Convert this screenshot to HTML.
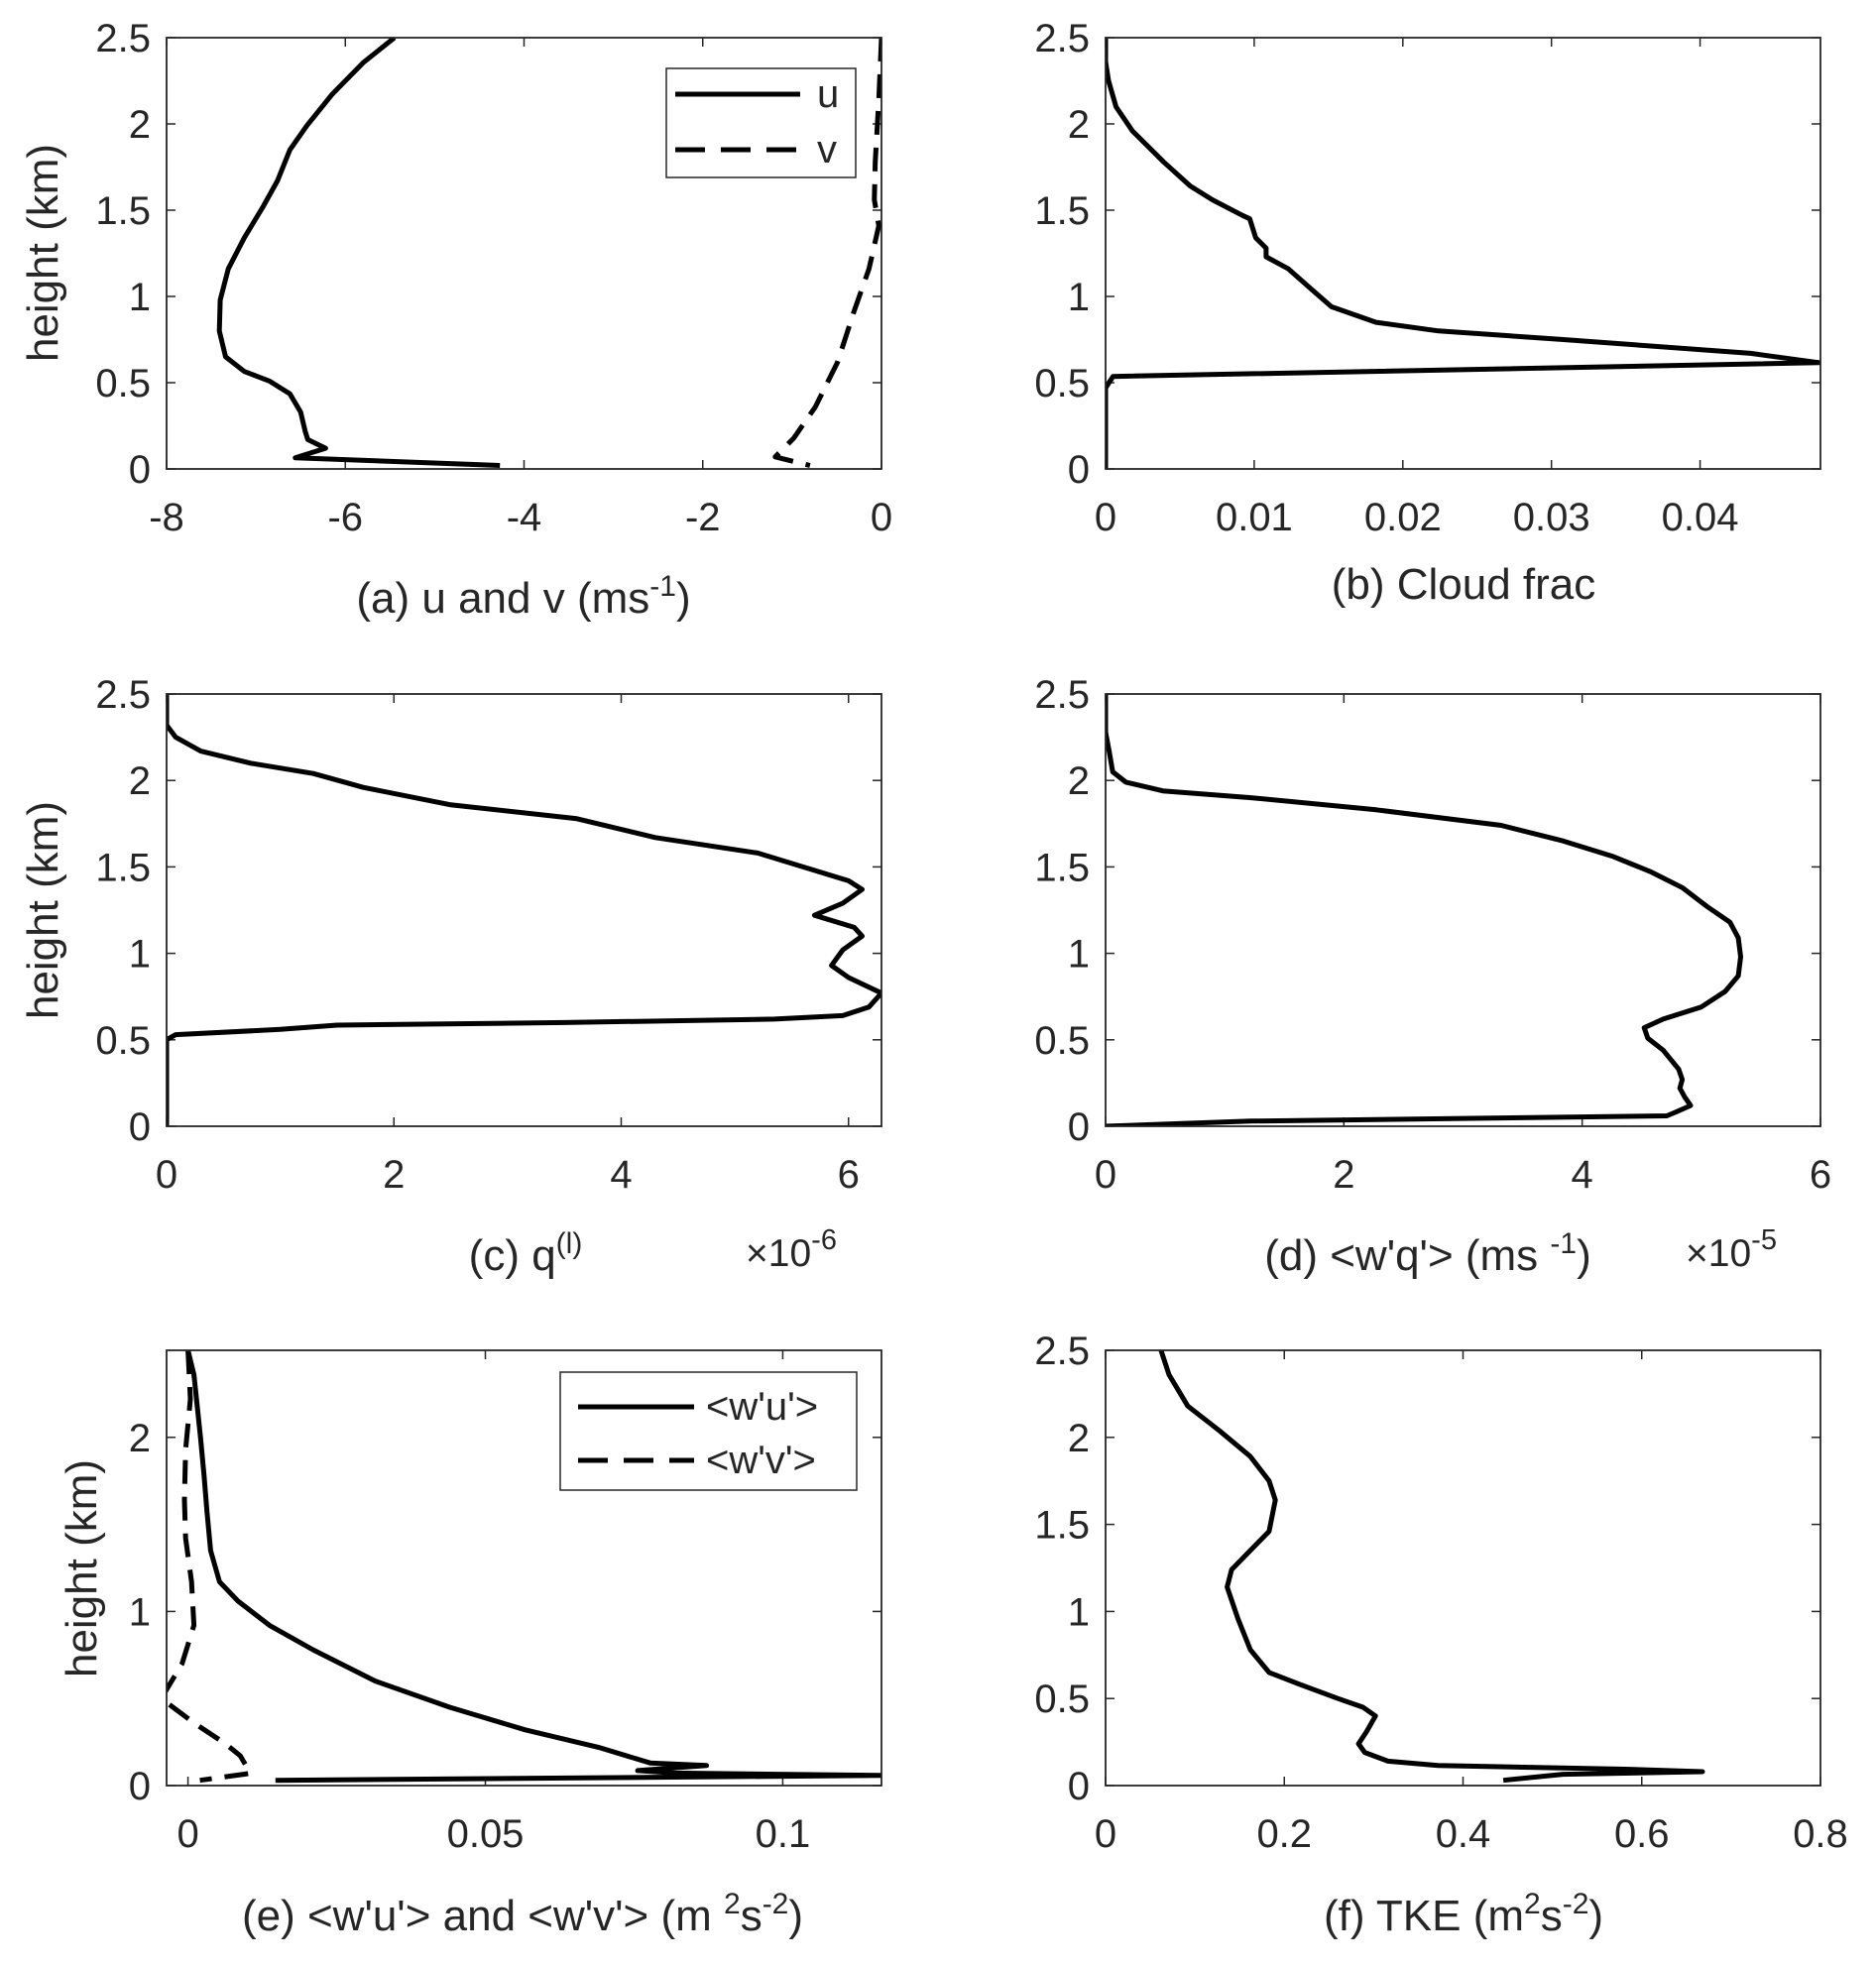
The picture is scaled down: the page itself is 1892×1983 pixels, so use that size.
<!DOCTYPE html>
<html><head><meta charset="utf-8"><style>
body{margin:0;background:#fff}
svg{display:block;font-family:"Liberation Sans",sans-serif}
</style></head><body>
<svg id="fig" width="1892" height="1983" viewBox="0 0 1892 1983" xmlns="http://www.w3.org/2000/svg"></svg>
<script>
// ---- data (x value, height km) ----
const aU_x=[-5.45,-5.80,-6.15,-6.43,-6.62,-6.76,-6.92,-7.13,-7.31,-7.40,-7.41,-7.34,-7.13,-6.85,-6.62,-6.50,-6.45,-6.42,-6.22,-6.56,-4.27];
const aU_h=[2.5,2.355,2.17,1.99,1.85,1.67,1.52,1.34,1.16,0.98,0.80,0.65,0.565,0.51,0.435,0.33,0.22,0.17,0.12,0.065,0.02];
const aV_x=[0,-0.03,-0.07,-0.08,-0.03,-0.14,-0.31,-0.49,-0.74,-0.98,-1.19,-0.8];
const aV_h=[2.5,2.14,1.78,1.56,1.41,1.16,0.91,0.62,0.36,0.18,0.07,0.02];
const bC_x=[0,0,0.0002,0.0007,0.0018,0.0039,0.0057,0.0072,0.0092,0.0097,0.0101,0.0108,0.0108,0.0123,0.014,0.0152,0.0182,0.0224,0.0308,0.0434,0.048,0.0005,0,0];
const bC_h=[2.5,2.36,2.25,2.1,1.96,1.78,1.64,1.56,1.47,1.45,1.34,1.28,1.23,1.16,1.03,0.94,0.85,0.80,0.75,0.67,0.616,0.536,0.47,0];
const cQ_x=[0,0,0.08,0.3,0.74,1.29,1.73,2.49,3.6,4.3,5.2,5.6,6.0,6.12,5.95,5.7,6.05,6.12,5.95,5.85,6.0,6.29,6.18,5.95,5.35,3.5,1.5,1.0,0.08,0,0];
const cQ_h=[2.5,2.32,2.25,2.17,2.1,2.04,1.96,1.86,1.78,1.67,1.58,1.5,1.42,1.37,1.29,1.22,1.15,1.1,1.02,0.93,0.86,0.77,0.69,0.64,0.62,0.6,0.585,0.56,0.53,0.5,0];
const dW_x=[0,0,0.03,0.06,0.17,0.48,1.22,2.27,3.32,3.84,4.26,4.58,4.84,5.05,5.24,5.31,5.33,5.31,5.2,5.0,4.68,4.52,4.55,4.68,4.81,4.84,4.82,4.86,4.91,4.78,4.71,1.22,0];
const dW_h=[2.5,2.28,2.17,2.05,1.99,1.94,1.9,1.83,1.74,1.65,1.56,1.47,1.38,1.27,1.18,1.09,0.98,0.87,0.78,0.69,0.62,0.57,0.51,0.44,0.33,0.27,0.22,0.17,0.12,0.08,0.06,0.03,0];
const eU_x=[0,0.001,0.0021,0.0027,0.0032,0.0038,0.0053,0.0084,0.0137,0.021,0.0315,0.044,0.0567,0.069,0.0777,0.0872,0.0756,0.082,0.1166,0.0147];
const eU_h=[2.5,2.36,2.0,1.78,1.57,1.35,1.17,1.06,0.92,0.78,0.6,0.45,0.32,0.22,0.13,0.115,0.086,0.072,0.058,0.03];
const eV_x=[0,0.0004,-0.0004,-0.0006,-0.0004,0.0006,0.001,-0.001,-0.0045,0.001,0.0063,0.0088,0.0105,0.002];
const eV_h=[2.5,2.22,1.93,1.64,1.42,1.17,0.92,0.7,0.5,0.36,0.24,0.17,0.07,0.03];
const fT_x=[0.062,0.071,0.092,0.127,0.162,0.183,0.19,0.183,0.162,0.141,0.136,0.148,0.162,0.183,0.218,0.26,0.288,0.302,0.292,0.283,0.29,0.316,0.372,0.582,0.668,0.512,0.445];
const fT_h=[2.5,2.36,2.18,2.04,1.89,1.75,1.64,1.46,1.35,1.24,1.14,0.96,0.78,0.65,0.58,0.5,0.45,0.4,0.31,0.24,0.19,0.14,0.115,0.094,0.08,0.065,0.03];
const xTicksA=[-8,-6,-4,-2,0], xTicksB=[0,0.01,0.02,0.03,0.04], xTicksC=[0,2,4,6], xTicksD=[0,2,4,6], xTicksE=[0,0.05,0.1], xTicksF=[0,0.2,0.4,0.6,0.8];
const yTicks=[0,0.5,1,1.5,2,2.5], yTicksE=[0,1,2];

const NS="http://www.w3.org/2000/svg";
const svg=document.getElementById('fig');
function mk(tag,attrs,parent){const e=document.createElementNS(NS,tag);for(const k in attrs)e.setAttribute(k,attrs[k]);(parent||svg).appendChild(e);return e;}
function txt(s,x,y,size,anchor,parent){const t=mk('text',{x:x,y:y,'font-size':size,'text-anchor':anchor||'middle',fill:'#262626'},parent);t.textContent=s;return t;}
let pid=0;
function panel(name,L,R,T,B,xmin,xmax,ymin,ymax,xt,yt,xfmt,series){
  const g=mk('g',{});
  
  
  const sx=v=>L+(v-xmin)/(xmax-xmin)*(R-L), sy=v=>B-(v-ymin)/(ymax-ymin)*(B-T);
  const id='clip'+(pid++);
  const cp=mk('clipPath',{id:id},g);mk('rect',{x:L,y:T,width:R-L,height:B-T},cp);
  xt.forEach(v=>{const x=sx(v);mk('line',{x1:x,y1:B,x2:x,y2:B-9,stroke:'#262626','stroke-width':1.5},g);mk('line',{x1:x,y1:T,x2:x,y2:T+9,stroke:'#262626','stroke-width':1.5},g);
    const t=txt(xfmt(v),x,B+62,40,'middle',g);});
  yt.forEach(v=>{const y=sy(v);mk('line',{x1:L,y1:y,x2:L+9,y2:y,stroke:'#262626','stroke-width':1.5},g);mk('line',{x1:R,y1:y,x2:R-9,y2:y,stroke:'#262626','stroke-width':1.5},g);
    const t=txt(String(v),L-16,y+14,40,'end',g);});
  const sg=mk('g',{'clip-path':'url(#'+id+')'},g);
  series.forEach(s=>{const pts=s.x.map((v,i)=>sx(v).toFixed(1)+','+sy(s.h[i]).toFixed(1)).join(' ');
    const p=mk('polyline',{points:pts,fill:'none',stroke:'#000','stroke-width':5,'stroke-linejoin':'round','stroke-dasharray':s.dash?'24 13':'none'},sg);
    
    });
  const box=mk('rect',{x:L,y:T,width:R-L,height:B-T,fill:'none',stroke:'#262626','stroke-width':1.8},g);
  
  
  return g;
}
const num=v=>String(v);
panel('panel-a',168,889,38,473,-8,0,0,2.5,xTicksA,yTicks,num,[{x:aU_x,h:aU_h,name:'u-line'},{x:aV_x,h:aV_h,dash:1,name:'v-line'}]);
panel('panel-b',1115,1836,38,473,0,0.0481,0,2.5,xTicksB,yTicks,num,[{x:bC_x,h:bC_h,name:'cloud-frac-line'}]);
panel('panel-c',168,889,700,1136,0,6.29,0,2.5,xTicksC,yTicks,num,[{x:cQ_x,h:cQ_h,name:'ql-line'}]);
panel('panel-d',1115,1836,700,1136,0,6,0,2.5,xTicksD,yTicks,num,[{x:dW_x,h:dW_h,name:'wq-line'}]);
panel('panel-e',168,889,1362,1801,-0.0036,0.1166,0,2.5,xTicksE,yTicksE,num,[{x:eU_x,h:eU_h,name:'wu-line'},{x:eV_x,h:eV_h,dash:1,name:'wv-line'}]);
panel('panel-f',1115,1836,1362,1801,0,0.8,0,2.5,xTicksF,yTicks,num,[{x:fT_x,h:fT_h,name:'tke-line'}]);

// legends
function legend(name,x,y,w,h,items){
  const g=mk('g',{});
  
  
  mk('rect',{x:x,y:y,width:w,height:h,fill:'#fff',stroke:'#262626','stroke-width':1.5},g);
  items.forEach(it=>{mk('line',{x1:it.x1,y1:it.y,x2:it.x2,y2:it.y,stroke:'#000','stroke-width':5,'stroke-dasharray':it.dash?'30 16':'none'},g);
    const t=txt(it.t,it.tx,it.y+13,40,'start',g);});
}
legend('legend-a',672,69,191,110,[{x1:681,x2:807,y:95,t:'u',tx:824},{x1:681,x2:807,y:151,t:'v',tx:824,dash:1}]);
legend('legend-e',565,1384,299,119,[{x1:583,x2:700,y:1419,t:"<w'u'>",tx:712},{x1:583,x2:700,y:1473,t:"<w'v'>",tx:712,dash:1}]);
</script>
<svg style="position:absolute;left:0;top:0" width="1892" height="1983" xmlns="http://www.w3.org/2000/svg" font-family="Liberation Sans, sans-serif" fill="#262626">
<g font-size="44" text-anchor="middle">
<text transform="translate(58,255) rotate(-90)">height (km)</text>
<text transform="translate(58,918) rotate(-90)">height (km)</text>
<text transform="translate(97,1582) rotate(-90)">height (km)</text>
<text x="528" y="618">(a) u and v (ms<tspan font-size="30" dy="-17">-1</tspan><tspan dy="17">)</tspan></text>
<text x="1476" y="604">(b) Cloud frac</text>
<text x="530" y="1281">(c) q<tspan font-size="30" dy="-17">(l)</tspan></text>
<text x="1440" y="1281">(d) &lt;w'q'&gt; (ms <tspan font-size="30" dy="-17">-1</tspan><tspan dy="17">)</tspan></text>
<text x="527" y="1947">(e) &lt;w'u'&gt; and &lt;w'v'&gt; (m <tspan font-size="30" dy="-17">2</tspan><tspan dy="17">s</tspan><tspan font-size="30" dy="-17">-2</tspan><tspan dy="17">)</tspan></text>
<text x="1476" y="1947">(f) TKE (m<tspan font-size="30" dy="-17">2</tspan><tspan dy="17">s</tspan><tspan font-size="30" dy="-17">-2</tspan><tspan dy="17">)</tspan></text>
</g>
<text x="752" y="1277" font-size="39">×10<tspan font-size="29" dy="-17">-6</tspan></text>
<text x="1700" y="1277" font-size="39">×10<tspan font-size="29" dy="-17">-5</tspan></text>
</svg>
</body></html>
